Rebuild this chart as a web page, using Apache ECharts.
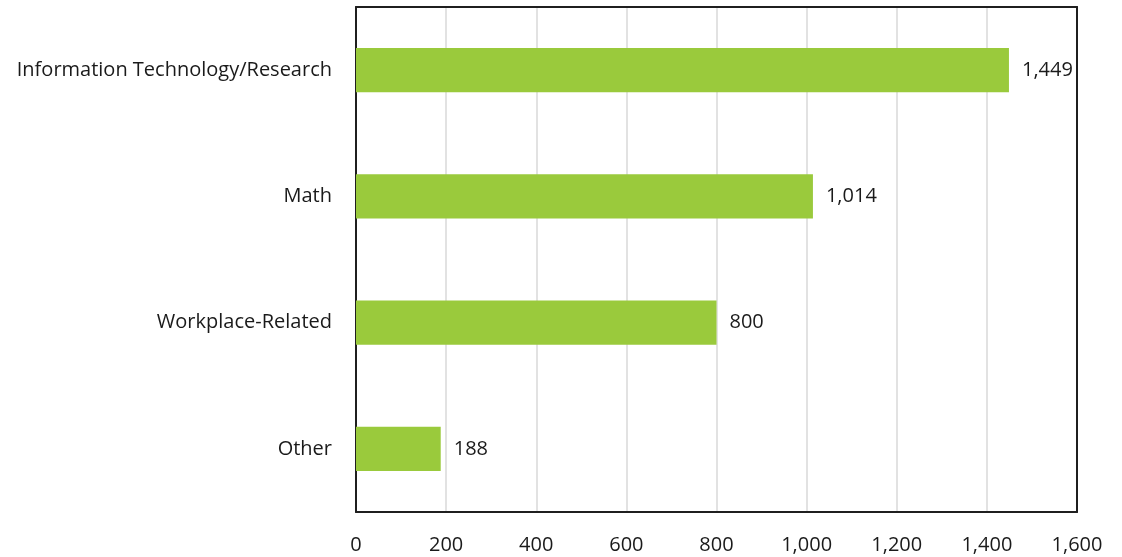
<!DOCTYPE html>
<html><head><meta charset="utf-8">
<script src="https://cdn.jsdelivr.net/npm/echarts@6/dist/echarts.min.js"></script>
<style>html,body{margin:0;padding:0;background:#fff}#c{width:1122px;height:557px}</style>
</head><body><div id="c"></div>
<script>
const categories = ["Information Technology/Research", "Math", "Workplace-Related", "Other"];
const values = [1449, 1014, 800, 188];
const xTicks = [0, 200, 400, 600, 800, 1000, 1200, 1400, 1600];

const chart = echarts.init(document.getElementById('c'));
const fmt = v => v.toLocaleString('en-US');
const frame = { show: true, onZero: false, lineStyle: { color: '#1f1f1f', width: 2 } };
chart.setOption({
  animation: false,
  textStyle: { fontFamily: 'Open Sans' },
  grid: { left: 356, right: 45, top: 7, bottom: 45, containLabel: false },
  xAxis: [{
    type: 'value', min: xTicks[0], max: xTicks[xTicks.length - 1], interval: 200,
    axisLine: frame,
    axisTick: { show: false },
    splitLine: { show: true, lineStyle: { color: '#d9d9d9', width: 1.5 } },
    axisLabel: { color: '#1a1a1a', fontSize: 20, margin: 23, formatter: v => fmt(v) }
  }, {
    type: 'value', position: 'top', min: 0, max: 1600, interval: 200,
    axisLine: frame, axisTick: { show: false }, axisLabel: { show: false }, splitLine: { show: false }
  }],
  yAxis: [{
    type: 'category', data: categories.slice().reverse(),
    axisLine: frame,
    axisTick: { show: false },
    axisLabel: { color: '#1a1a1a', fontSize: 20, margin: 24 }
  }, {
    type: 'category', position: 'right', data: categories.slice().reverse(),
    axisLine: frame, axisTick: { show: false }, axisLabel: { show: false }, splitLine: { show: false }
  }],
  series: [{
    type: 'bar',
    xAxisIndex: 0, yAxisIndex: 0,
    data: values.slice().reverse(),
    barWidth: '35%',
    itemStyle: { color: '#9aca3c' },
    label: { show: true, position: 'right', distance: 13, color: '#1a1a1a', fontSize: 20, formatter: p => fmt(p.value) }
  }]
});
</script></body></html>
